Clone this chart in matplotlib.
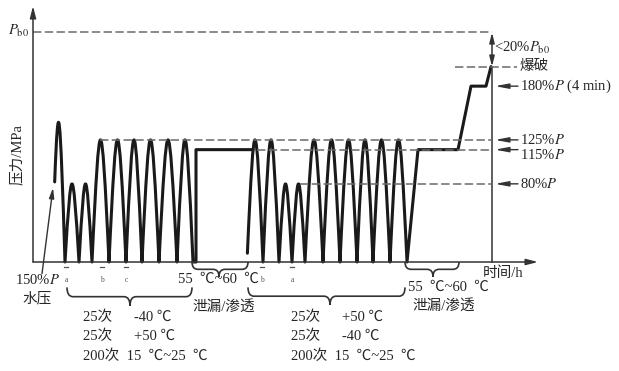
import numpy as np
import matplotlib.pyplot as plt
from matplotlib.path import Path
from matplotlib.patches import PathPatch

plt.rcParams['font.family'] = ['Liberation Serif', 'Noto Sans CJK SC']
plt.rcParams['mathtext.fontset'] = 'stix'

# pressure cycles: (left trough t, right trough t, peak %P, start level %P)
hills_1 = [(19, 32, 143, 82), (32, 46, 80, 0), (46, 59, 80, 0),
           (59, 76, 125, 0), (76, 93, 125, 0), (93, 109, 125, 0),
           (109, 126, 125, 0), (126, 144, 125, 0), (144, 160, 125, 0)]
hold_1_t = [163, 163, 163, 220]
hold_1_p = [0, 0, 115, 115]

hills_2 = [(214, 230, 125, 9), (230, 246, 125, 0), (246, 259, 80, 0),
           (259, 272, 80, 0), (272, 290, 125, 0), (290, 307, 125, 0),
           (307, 324, 125, 0), (324, 340, 125, 0), (340, 357, 125, 0),
           (357, 374, 125, 0)]
hold_2_t = [385, 425, 438, 453, 458]
hold_2_p = [115, 115, 180, 180, 200]

t_end = 459
p_b0 = 235
p_burst = 200

# reference levels: (level %P, dashed from t, dashed to t)
dashed = [(p_b0, 0, t_end), (p_burst, 422, 484), (125, 67, t_end),
          (115, 224, t_end), (80, 267, t_end)]

# right-hand labels: (text, level of arrow, level of text)
right_labels = [(r"180%$P$ (4 min)", 180, 180), (r"125%$P$", 125, 125),
                (r"115%$P$", 115, 110), (r"80%$P$", 80, 80)]

# braces under the time axis: (t left, t right, t tip, top, tip)
braces = [(34, 159, 97, -26, -45), (159, 215, 186, 0, -15),
          (215, 372, 297, -26, -44), (372, 426, 400, 0, -15)]

marks_t = [33, 69, 93, 229, 259]
marks_txt = ["a", "b", "c", "b", "a"]

leak_txt = "55  ℃~60  ℃"
cond_1 = ["25次      -40 ℃", "25次      +50 ℃", "200次  15  ℃~25  ℃"]
cond_2 = ["25次      +50 ℃", "25次      -40 ℃", "200次  15  ℃~25  ℃"]

DARK = "#1a1a1a"
GRAY = "#6a6a6a"
TXT = "#262626"


def split_right(pts, t):
    p0, p1, p2, p3 = pts
    p01, p12, p23 = p0 + (p1 - p0) * t, p1 + (p2 - p1) * t, p2 + (p3 - p2) * t
    p012, p123 = p01 + (p12 - p01) * t, p12 + (p23 - p12) * t
    p0123 = p012 + (p123 - p012) * t
    return [p0123, p123, p23, p3]


def wave_path(hills, tail_t, tail_p):
    verts, codes = [], []
    for a, b, level, start in hills:
        h = level / 0.75
        m = (a + b) / 2
        d = 0.05 * (b - a)
        pts = [np.array(v, float) for v in [(a, 0), (m - d, h), (m + d, h), (b, 0)]]
        if start > 0:
            t0 = (1 - np.sqrt(1 - 4 * start / (3 * h))) / 2
            pts = split_right(pts, t0)
        if not verts:
            verts.append(pts[0])
            codes.append(Path.MOVETO)
        verts += pts[1:]
        codes += [Path.CURVE4] * 3
    for t, p in zip(tail_t, tail_p):
        verts.append((t, p))
        codes.append(Path.LINETO)
    return Path(verts, codes)


def brace_path(x0, x1, xt, ytop, ytip, r=6):
    ym = (ytop + ytip) / 2
    verts = [(x0, ytop), (x0, ym), (x0 + r, ym), (xt - r, ym), (xt, ym), (xt, ytip),
             (xt, ym), (xt + r, ym), (x1 - r, ym), (x1, ym), (x1, ytop)]
    codes = [Path.MOVETO, Path.CURVE3, Path.CURVE3, Path.LINETO, Path.CURVE3, Path.CURVE3,
             Path.CURVE3, Path.CURVE3, Path.LINETO, Path.CURVE3, Path.CURVE3]
    return Path(verts, codes)


fig = plt.figure(figsize=(6.19, 3.71), dpi=100)
ax = fig.add_axes([33 / 619, 109 / 371, 505 / 619, 254 / 371])
ax.set_xlim(0, 505)
ax.set_ylim(0, 260)
ax.axis("off")

# axes with arrows
ax.annotate("", xy=(0, 262), xytext=(0, 0), annotation_clip=False,
            arrowprops=dict(arrowstyle="-|>,head_length=0.7,head_width=0.18",
                            color="#333333", lw=1.1, shrinkA=0, shrinkB=0))
ax.annotate("", xy=(505, 0), xytext=(0, 0), annotation_clip=False,
            arrowprops=dict(arrowstyle="-|>,head_length=0.7,head_width=0.18",
                            color="#333333", lw=1.1, shrinkA=0, shrinkB=0))
ax.plot([t_end, t_end], [0, p_burst], color="#333333", lw=1.1, clip_on=False)
ax.annotate("", xy=(t_end, p_b0), xytext=(t_end, p_burst), annotation_clip=False,
            arrowprops=dict(arrowstyle="<|-|>,head_length=0.6,head_width=0.15",
                            color="#333333", lw=1.1, shrinkA=0, shrinkB=0))

for level, t0, t1 in dashed:
    ax.plot([t0, t1], [level, level], color=GRAY, lw=1.1,
            linestyle=(0, (5.5, 2.2)), clip_on=False)

for tails in [(hills_1, hold_1_t, hold_1_p), (hills_2, hold_2_t, hold_2_p)]:
    ax.add_patch(PathPatch(wave_path(*tails), fill=False, edgecolor=DARK, lw=2.2,
                           joinstyle="round", capstyle="round", clip_on=False))

for br in braces:
    ax.add_patch(PathPatch(brace_path(*br), fill=False, edgecolor="#333333",
                           lw=1.2, clip_on=False))

fs = 10.5
for txt, lev_a, lev_t in right_labels:
    ax.annotate("", xy=(462, lev_a), xytext=(485, lev_a), annotation_clip=False,
                arrowprops=dict(arrowstyle="-|>,head_length=0.8,head_width=0.15",
                                color="#333333", lw=1.0, shrinkA=0, shrinkB=0))
    ax.text(487, lev_t, txt, fontsize=fs, color=TXT, ha="left", va="center", clip_on=False)

ax.text(487, p_burst, "爆破", fontsize=fs, color=TXT, ha="left", va="center")
ax.text(461, 219, r"<20%$P_{\rm b0}$", fontsize=fs, color=TXT, ha="left", va="center")
ax.text(-4, p_b0 + 1, r"$P_{\rm b0}$", fontsize=fs, color=TXT, ha="right", va="center")
ax.text(-16, 110, "压力/MPa", fontsize=fs, color=TXT, rotation=90,
        ha="center", va="center")
ax.text(450, -11, "时间/h", fontsize=fs, color=TXT, ha="left", va="center")

for t, s in zip(marks_t, marks_txt):
    ax.plot([t - 2, t + 2], [-5, -5], color="#555555", lw=0.9, clip_on=False)
    ax.text(t, -18, s, fontsize=5.5, color="#555555", ha="center", va="center")

ax.text(145, -18, leak_txt, fontsize=fs, color=TXT, ha="left", va="center")
ax.text(191, -46, "泄漏/渗透", fontsize=fs, color=TXT, ha="center", va="center")
ax.text(375, -26, leak_txt, fontsize=fs, color=TXT, ha="left", va="center")
ax.text(411, -45, "泄漏/渗透", fontsize=fs, color=TXT, ha="center", va="center")

for i, (c1, c2) in enumerate(zip(cond_1, cond_2)):
    y = -57 - 19.5 * i
    ax.text(50, y, c1, fontsize=fs, color=TXT, ha="left", va="center")
    ax.text(258, y, c2, fontsize=fs, color=TXT, ha="left", va="center")

ax.text(4, -18, r"150%$P$", fontsize=fs, color=TXT, ha="center", va="center")
ax.text(4, -37, "水压", fontsize=fs, color=TXT, ha="center", va="center")
ax.annotate("", xy=(20, 76), xytext=(9, -12), annotation_clip=False,
            arrowprops=dict(arrowstyle="-|>,head_length=0.6,head_width=0.15",
                            color="#333333", lw=1.0, shrinkA=0, shrinkB=0))

fig.savefig("out.png", dpi=100)
